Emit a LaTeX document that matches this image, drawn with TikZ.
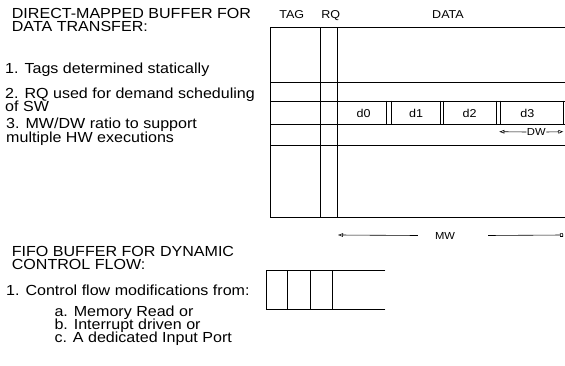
\documentclass[tikz,border=0pt]{standalone}
\usepackage{fontspec}
\setmainfont{Liberation Sans}[FakeStretch=1.1]
\usetikzlibrary{arrows.meta}
\begin{document}
\begin{tikzpicture}[x=1pt,y=-1pt,
  txt/.style={anchor=base west, inner sep=0pt, font=\fontsize{14.6}{15}\selectfont},
  lbl/.style={anchor=base, inner sep=0pt, font=\fontsize{11.4}{12}\selectfont},
  dim/.style={anchor=center, inner sep=0pt, font=\fontsize{10.2}{11}\selectfont},
  ln/.style={line width=0.9pt, line cap=rect},
  arr/.style={line width=0.6pt, -{Triangle[open,length=5pt,width=3.5pt]}},
  arrsq/.style={line width=0.6pt, -{Square[open,length=3pt,width=3.5pt]}}]
\useasboundingbox (0,0) rectangle (565,366);
% left texts
\node[txt] (t1) at (11.7,18.3) {DIRECT-MAPPED BUFFER FOR};
\node[txt] (t2) at (11.7,31.7) {DATA TRANSFER:};
\node[txt] (t3) at (5,74) {1. Tags determined statically};
\node[txt] (t4) at (5,98.3) {2. RQ used for demand scheduling};
\node[txt] (t5) at (5,111.6) {of SW};
\node[txt] (t6) at (6,129) {3. MW/DW ratio to support};
\node[txt] (t7) at (6,142.4) {multiple HW executions};
\node[txt] (f1) at (11.7,256) {FIFO BUFFER FOR DYNAMIC};
\node[txt] (f2) at (11.7,269.3) {CONTROL FLOW:};
\node[txt] (f3) at (6,295) {1. Control flow modifications from:};
\node[txt] (f4) at (54.3,316.1) {a. Memory Read or};
\node[txt] (f5) at (54.3,329.4) {b. Interrupt driven or};
\node[txt] (f6) at (54.3,342.8) {c. A dedicated Input Port};
% column heads
\node[lbl] (tag) at (291.7,19) {TAG};
\node[lbl] (rq) at (330.7,19) {RQ};
\node[lbl] (data) at (448,19) {DATA};
% direct-mapped buffer
\draw[ln] (566,27.7) -- (270.7,27.7) -- (270.7,217.3) -- (566,217.3);
\foreach \yy in {82.7,101,124.3,145.7} \draw[ln] (270.7,\yy) -- (566,\yy);
\draw[ln] (320.7,27.7) -- (320.7,217.3);
\draw[ln] (337.7,27.7) -- (337.7,217.3);
\foreach \xx in {386.7,391.7,440,443.7,496.7,500,563.3} \draw[ln] (\xx,101) -- (\xx,124.3);
\node[lbl] (d0) at (363.5,117.3) {d0};
\node[lbl] (d1) at (416,117.3) {d1};
\node[lbl] (d2) at (469.5,117.3) {d2};
\node[lbl] (d3) at (527.3,117.3) {d3};
% DW
\node[dim] (dw) at (536.3,132) {DW};
\coordinate (dwl) at (499.3,131.7);
\coordinate (dwr) at (563.3,131.7);
\draw[arr] ([xshift=-0.5pt]dw.west) -- (dwl);
\draw[arr] ([xshift=0.5pt]dw.east) -- (dwr);
% MW
\node[dim] (mw) at (445,235.5) {MW};
\coordinate (mwl) at (338,235);
\coordinate (mwr) at (563,235);
\draw[arr] ([xshift=-17pt]mw.west) -- (mwl);
\draw[arrsq] ([xshift=33pt]mw.east) -- (mwr);
% FIFO
\draw[ln] (385,270.7) -- (266,270.7) -- (266,309.3) -- (385,309.3);
\foreach \xx in {287.7,310.3,332.3} \draw[ln] (\xx,270.7) -- (\xx,309.3);
\end{tikzpicture}
\end{document}
